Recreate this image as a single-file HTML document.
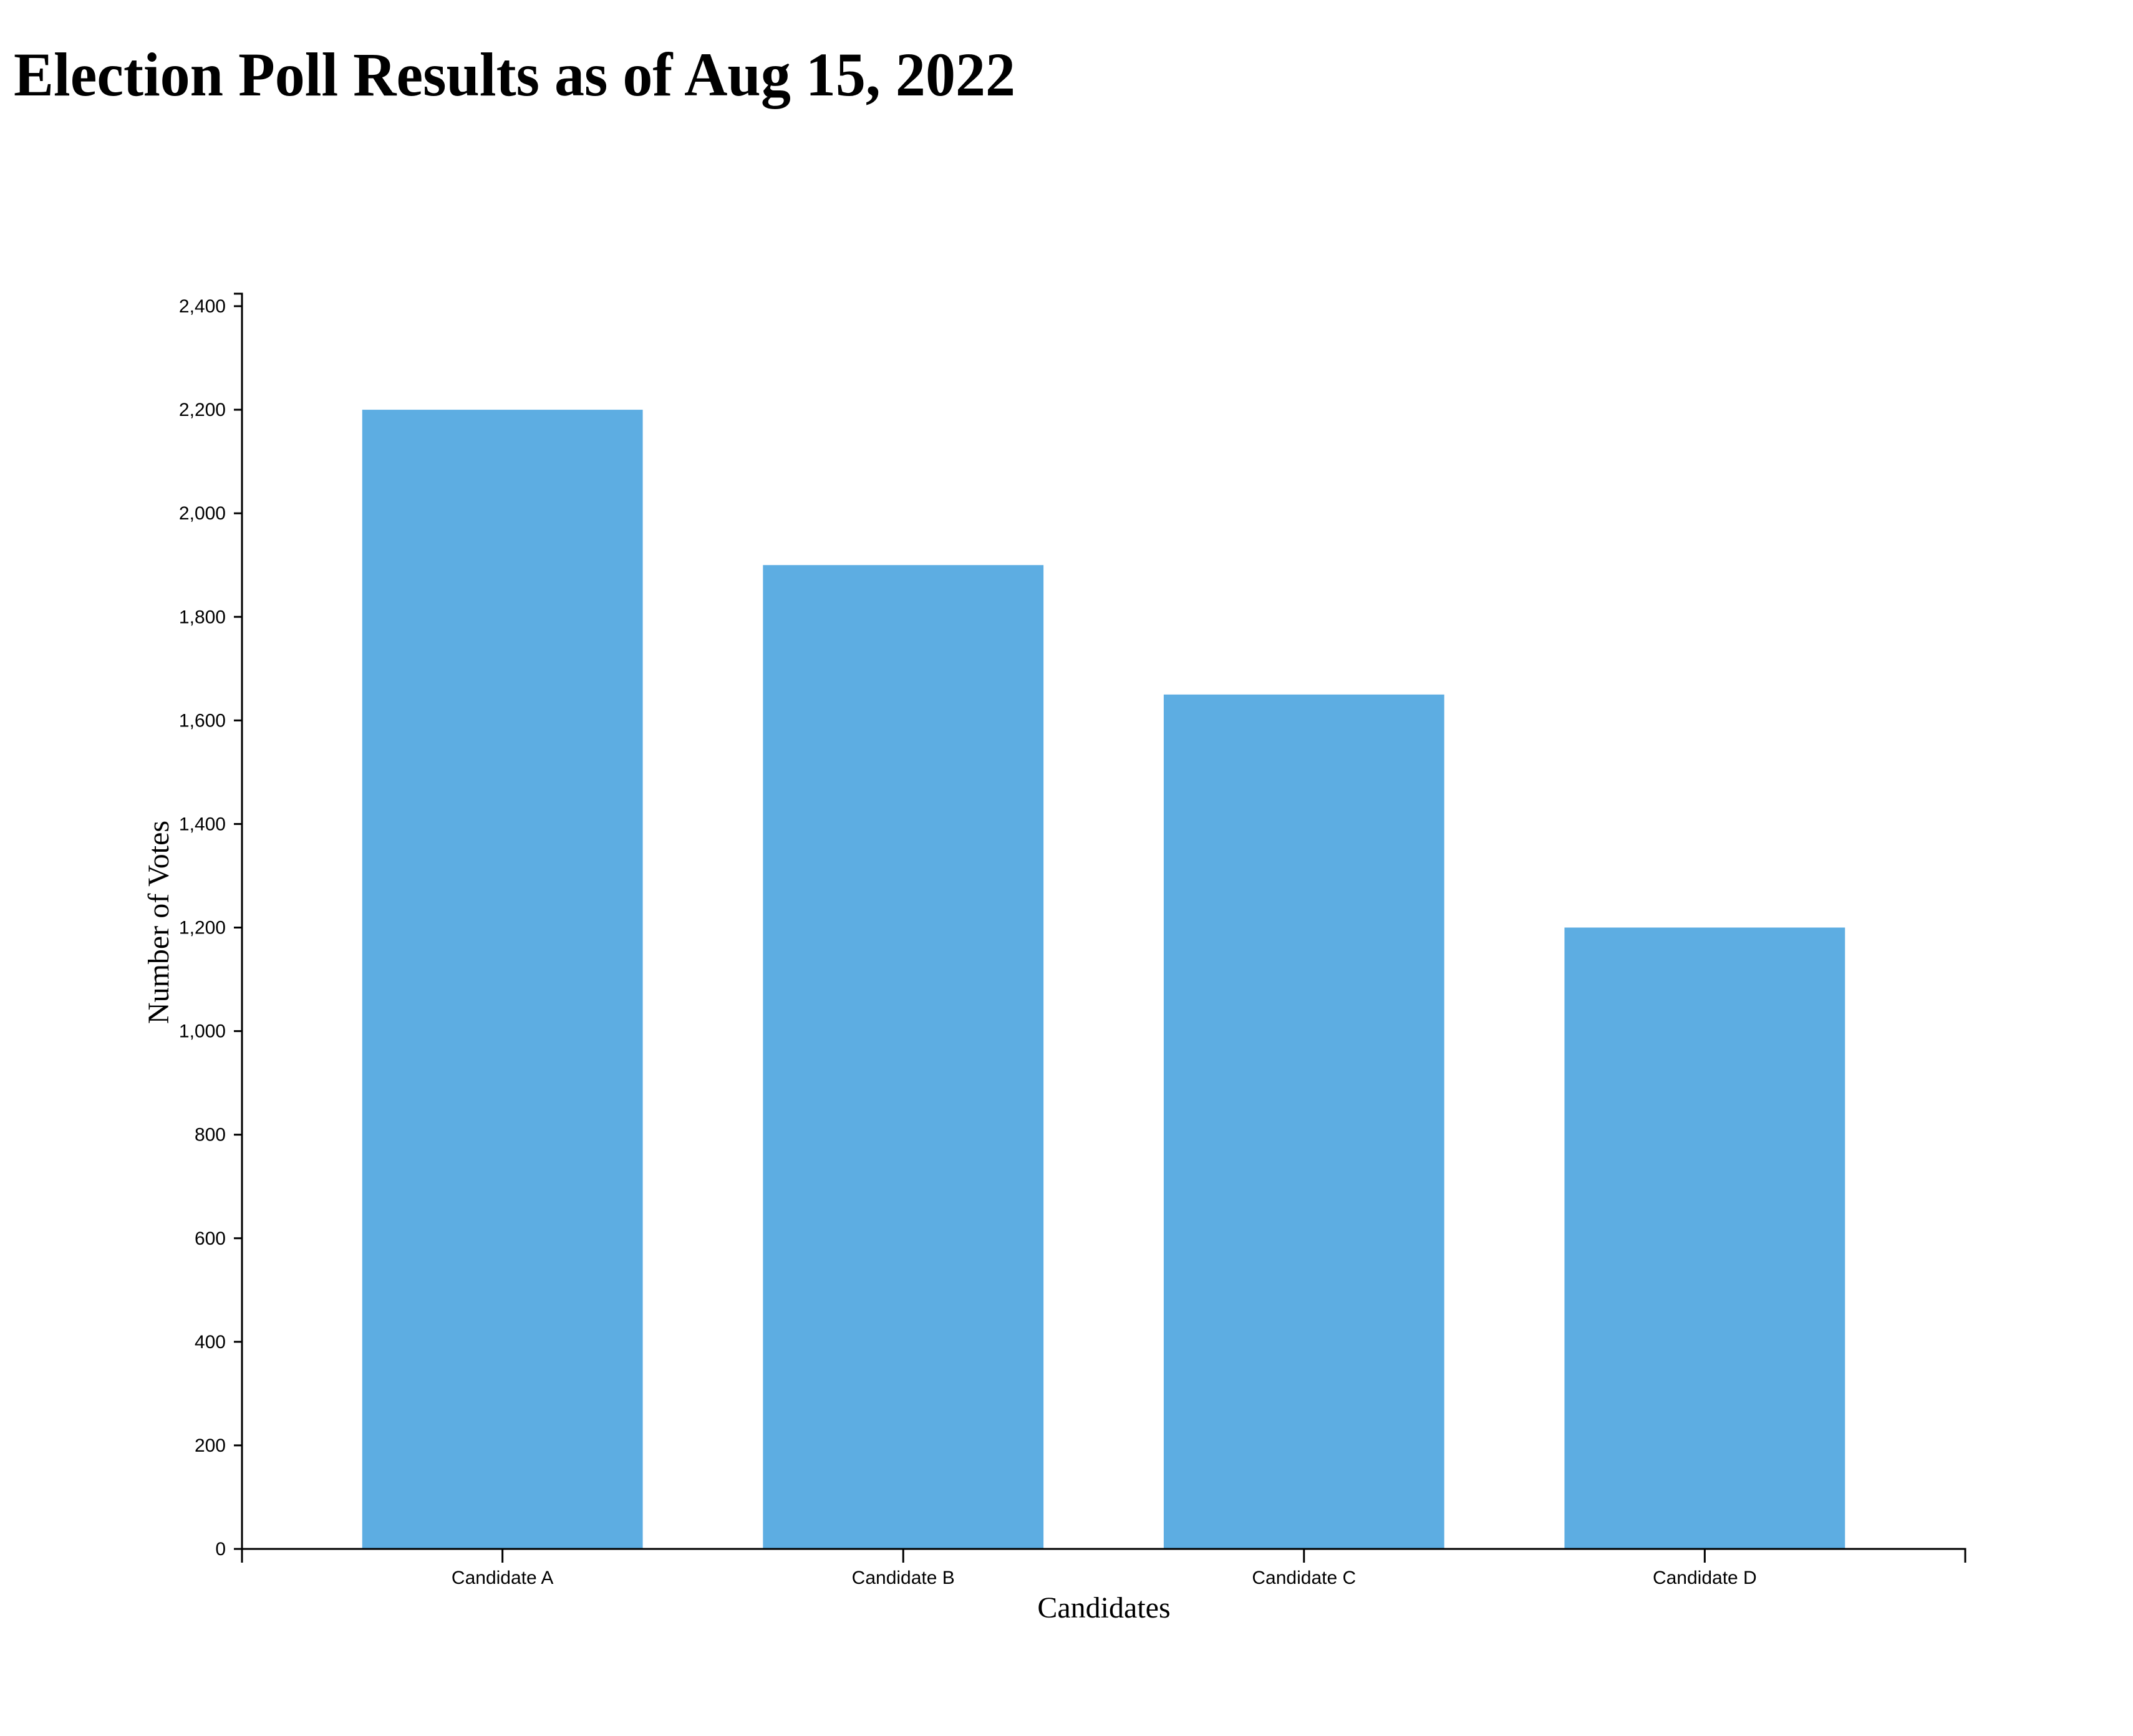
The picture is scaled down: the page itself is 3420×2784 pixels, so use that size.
<!DOCTYPE html>
<html><head><meta charset="utf-8"><style>
html,body{margin:0;padding:0;background:#fff;}
svg{display:block;}
</style></head><body>
<svg id="chart" width="3420" height="2784" xmlns="http://www.w3.org/2000/svg">
<text x="22" y="153" font-family="Liberation Serif, serif" font-weight="bold" font-size="100" textLength="1606" lengthAdjust="spacingAndGlyphs">Election Poll Results as of Aug 15, 2022</text>
<g id="plot"></g>
<text transform="translate(270,1479) rotate(-90)" text-anchor="middle" font-family="Liberation Serif, serif" font-size="48">Number of Votes</text>
<text x="1770" y="2594" text-anchor="middle" font-family="Liberation Serif, serif" font-size="48">Candidates</text>
</svg>
<script>
const categories = ["Candidate A","Candidate B","Candidate C","Candidate D"];
const votes = [2200,1900,1650,1200];
const yTicks = [0,200,400,600,800,1000,1200,1400,1600,1800,2000,2200,2400];

const NS="http://www.w3.org/2000/svg";
const g=document.getElementById('plot');
const x0=388,x1=3151,yBase=2484,yTopPx=471;
const yMax=2400, y2400=491;
function y(v){return yBase-(yBase-y2400)*v/yMax;}
const pad=0.3;
const step=(x1-x0)/(categories.length-pad+2*pad);
const bw=step*(1-pad);
function xb(i){return x0+step*pad+i*step;}
function mk(tag,attrs){const e=document.createElementNS(NS,tag);for(const k in attrs)e.setAttribute(k,attrs[k]);g.appendChild(e);return e;}

votes.forEach((v,i)=>{
  const r=mk('rect',{x:xb(i),y:y(v),width:bw,height:yBase-y(v),fill:'#5DADE2'});
  
  
});
let p=mk('path',{d:`M${x0-13},${yTopPx}H${x0}V${yBase}H${x0-13}`,fill:'none',stroke:'#000','stroke-width':3});


yTicks.forEach(t=>{
  const l=mk('line',{x1:x0-13,x2:x0,y1:y(t),y2:y(t),stroke:'#000','stroke-width':3});
  
  
  const tx=mk('text',{x:x0-26,y:y(t)+10,'text-anchor':'end','font-family':'Liberation Sans, sans-serif','font-size':30});
  tx.textContent=t.toLocaleString('en-US');
  
  
});
p=mk('path',{d:`M${x0},${yBase+22}V${yBase}H${x1}V${yBase+22}`,fill:'none',stroke:'#000','stroke-width':3});


categories.forEach((c,i)=>{
  const cx=xb(i)+bw/2;
  const l=mk('line',{x1:cx,x2:cx,y1:yBase,y2:yBase+22,stroke:'#000','stroke-width':3});
  
  
  const tx=mk('text',{x:cx,y:yBase+56,'text-anchor':'middle','font-family':'Liberation Sans, sans-serif','font-size':30});
  tx.textContent=c;
  
  
});
</script>
</body></html>
